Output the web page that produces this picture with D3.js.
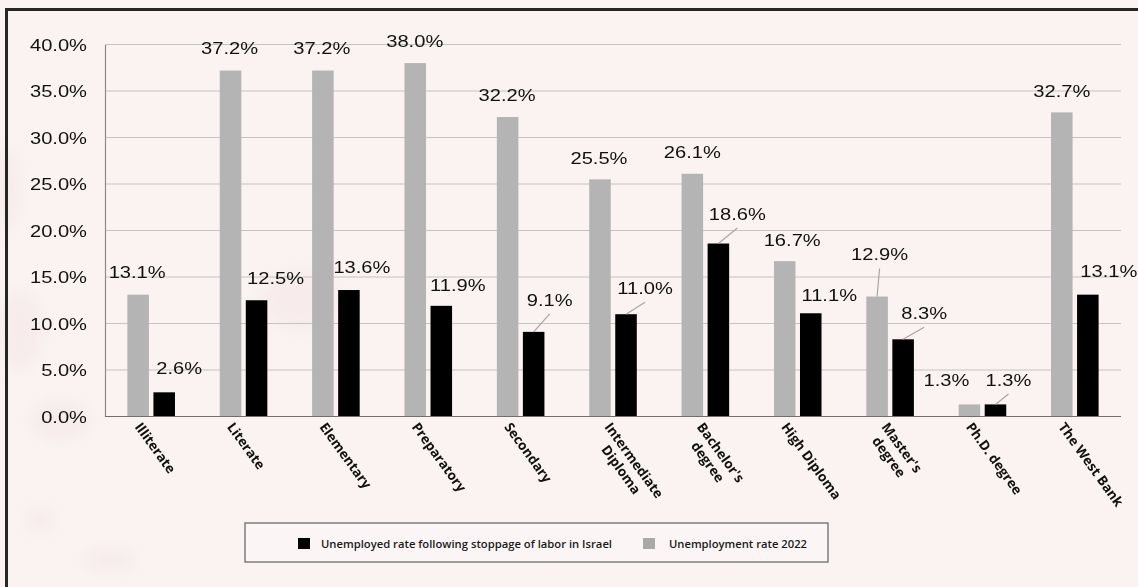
<!DOCTYPE html>
<html>
<head>
<meta charset="utf-8">
<script src="https://cdn.jsdelivr.net/npm/d3@7"></script>
<style>
  html, body { margin: 0; padding: 0; background: #faf3f2; }
  svg { display: block; }
</style>
</head>
<body>
<svg id="chart" width="1138" height="587"></svg>
<script>
// Education levels along the x axis (\n marks a line break in the label)
const categories = [
  "Illiterate", "Literate", "Elementary", "Preparatory", "Secondary",
  "Intermediate\nDiploma", "Bachelor's\ndegree", "High Diploma",
  "Master's\ndegree", "Ph.D. degree", "The West Bank"
];
// Unemployment rate 2022 (%)
const rate2022 = [13.1, 37.2, 37.2, 38.0, 32.2, 25.5, 26.1, 16.7, 12.9, 1.3, 32.7];
// Unemployed rate following stoppage of labor in Israel (%)
const rateStoppage = [2.6, 12.5, 13.6, 11.9, 9.1, 11.0, 18.6, 11.1, 8.3, 1.3, 13.1];
// Y axis ticks (%)
const yTicks = [0, 5, 10, 15, 20, 25, 30, 35, 40];
const seriesNames = ["Unemployed rate following stoppage of labor in Israel", "Unemployment rate 2022"];

// Value label placement relative to the top centre of each bar: [dx, dy, leader line]
const labelPos2022 = [
  [-1, -22, 0], [-1, -22.5, 0], [-1, -22, 0], [-0.5, -22, 0], [-0.5, -22, 0],
  [-1, -21.5, 0], [0, -21.5, 0], [7.5, -21, 0], [2.5, -42, 1], [-23, -24, 0], [0, -21.5, 0]
];
const labelPosStoppage = [
  [15, -24, 0], [19, -22, 0], [13, -23, 0], [16.5, -21, 0], [16, -32, 1],
  [19, -26, 1], [19, -29.5, 1], [18.5, -18.5, 0], [21, -26, 1], [13, -24.5, 1], [21, -23, 0]
];

const svg = d3.select("#chart");
const W = 1138, H = 587;
const plot = { left: 105, right: 1121, top: 44.5, bottom: 416.5 };

// soft background blots
const defs = svg.append("defs");
defs.append("filter").attr("id", "soft").append("feGaussianBlur").attr("stdDeviation", 7);
svg.append("rect").attr("width", W).attr("height", H).attr("fill", "#faf3f2");
const blots = [[20, 330, 22, 40], [40, 520, 14, 14], [110, 560, 26, 12],
               [8, 190, 12, 40], [300, 300, 40, 30], [60, 420, 30, 20]];
svg.append("g").attr("filter", "url(#soft)").selectAll("ellipse").data(blots).join("ellipse")
  .attr("cx", d => d[0]).attr("cy", d => d[1]).attr("rx", d => d[2]).attr("ry", d => d[3])
  .attr("fill", "#f0d8d8").attr("opacity", 0.25);

// frame (top and left edges)
svg.append("line").attr("x1", 5).attr("x2", W).attr("y1", 9.5).attr("y2", 9.5)
  .attr("stroke", "#262626").attr("stroke-width", 3);
svg.append("line").attr("x1", 6.5).attr("x2", 6.5).attr("y1", 8).attr("y2", H)
  .attr("stroke", "#262626").attr("stroke-width", 3);

// scales
const x0 = d3.scaleBand().domain(categories).range([plot.left, plot.right]).padding(0);
const x1 = d3.scaleBand().domain(["y2022", "stop"]).range([0, x0.bandwidth()])
  .paddingInner(0.173).paddingOuter(0.86);
const y = d3.scaleLinear().domain([0, 40]).range([plot.bottom, plot.top]);

// gridlines
svg.append("g").selectAll("line").data(yTicks.filter(t => t > 0)).join("line")
  .attr("x1", plot.left).attr("x2", plot.right)
  .attr("y1", d => y(d)).attr("y2", d => y(d))
  .attr("stroke", "#c4c4c4").attr("stroke-width", 1.2);

// y axis
const yAxis = d3.axisLeft(y).tickValues(yTicks).tickSize(0).tickPadding(0)
  .tickFormat(d => d.toFixed(1) + "%");
const yG = svg.append("g").attr("transform", `translate(${plot.left},0)`).call(yAxis);
yG.select(".domain").attr("stroke", "#8a8a8a").attr("stroke-width", 1.2);
yG.selectAll(".tick text").remove();
yG.selectAll(".tick").append("g")
  .attr("transform", "translate(-18,0) scale(1.22,1)")
  .append("text")
  .attr("text-anchor", "end").attr("dy", "0.35em")
  .attr("font-family", "'Liberation Sans', Arial, sans-serif").attr("font-size", 16.5)
  .attr("fill", "#111")
  .text(d => d.toFixed(1) + "%");

// bars
const rows = categories.map((c, i) => ({ cat: c, i, y2022: rate2022[i], stop: rateStoppage[i] }));
const groups = svg.append("g").selectAll("g").data(rows).join("g")
  .attr("transform", d => `translate(${x0(d.cat)},0)`);
groups.append("rect")
  .attr("x", x1("y2022")).attr("width", x1.bandwidth())
  .attr("y", d => y(d.y2022)).attr("height", d => y(0) - y(d.y2022))
  .attr("fill", "#b4b4b4");
groups.append("rect")
  .attr("x", x1("stop")).attr("width", x1.bandwidth())
  .attr("y", d => y(d.stop)).attr("height", d => y(0) - y(d.stop))
  .attr("fill", "#000");

// baseline
svg.append("line").attr("x1", plot.left).attr("x2", plot.right)
  .attr("y1", y(0)).attr("y2", y(0)).attr("stroke", "#6e6e6e").attr("stroke-width", 1.2);

// value labels with leader lines
function drawLabels(values, key, pos) {
  const g = svg.append("g");
  values.forEach((v, i) => {
    const bx = x0(categories[i]) + x1(key) + x1.bandwidth() / 2;
    const by = y(v);
    const [dx, dy, lead] = pos[i];
    const lx = bx + dx, ly = by + dy;
    if (lead) {
      g.append("line").attr("x1", bx).attr("y1", by).attr("x2", lx).attr("y2", ly + 14)
        .attr("stroke", "#a6a6a6").attr("stroke-width", 1.2);
    }
    g.append("g").attr("transform", `translate(${lx},${ly}) scale(1.22,1)`)
      .append("text").attr("text-anchor", "middle").attr("dy", "0.35em")
      .attr("font-family", "'Liberation Sans', Arial, sans-serif").attr("font-size", 16.5)
      .attr("fill", "#111")
      .text(v.toFixed(1) + "%");
  });
}
drawLabels(rate2022, "y2022", labelPos2022);
drawLabels(rateStoppage, "stop", labelPosStoppage);

// rotated category labels
const angle = 54;
const catG = svg.append("g");
categories.forEach((c, i) => {
  const lines = c.split("\n");
  const cx = x0(c) + x0.bandwidth() / 2;
  const offset = lines.length > 1 ? -9 : -17;
  const g = catG.append("g").attr("transform", `translate(${cx + offset},${427}) rotate(${angle})`);
  const t1 = g.append("text")
    .attr("font-family", "'Open Sans', sans-serif").attr("font-weight", 700)
    .attr("font-size", 13.5).attr("fill", "#111").text(lines[0]);
  if (lines.length > 1) {
    const w1 = t1.node().getComputedTextLength();
    g.append("text").attr("x", w1 / 2).attr("y", 16).attr("text-anchor", "middle")
      .attr("font-family", "'Open Sans', sans-serif").attr("font-weight", 700)
      .attr("font-size", 13.5).attr("fill", "#111").text(lines[1]);
  }
});

// legend
const lg = svg.append("g");
lg.append("rect").attr("x", 245).attr("y", 523).attr("width", 583).attr("height", 39)
  .attr("fill", "#fbf6f5").attr("stroke", "#6b6b6b").attr("stroke-width", 1.3);
const legendItems = [
  { name: seriesNames[0], color: "#000", sx: 298, tx: 321, tw: 291 },
  { name: seriesNames[1], color: "#a9a9a9", sx: 643, tx: 669, tw: 138 }
];
legendItems.forEach(d => {
  lg.append("rect").attr("x", d.sx).attr("y", 538).attr("width", 12).attr("height", 11).attr("fill", d.color);
  lg.append("text").attr("x", d.tx).attr("y", 548)
    .attr("font-family", "'Open Sans', sans-serif").attr("font-weight", 600)
    .attr("font-size", 11).attr("fill", "#1a1a1a")
    .attr("textLength", d.tw).attr("lengthAdjust", "spacingAndGlyphs")
    .text(d.name);
});
</script>
</body>
</html>
